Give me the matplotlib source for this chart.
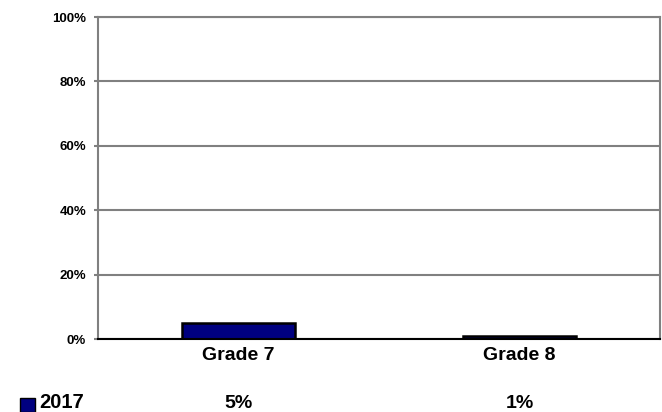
import matplotlib
matplotlib.use("Agg")
import matplotlib.pyplot as plt
from matplotlib.patches import Rectangle

categories = ["Grade 7", "Grade 8"]
values_2017 = [5, 1]
series_name = "2017"
yticks = [0, 20, 40, 60, 80, 100]

plt.rcParams['font.family'] = ['Liberation Sans', 'DejaVu Sans']
plt.rcParams['font.weight'] = 'bold'

W, H = 662, 412
fig = plt.figure(figsize=(W/100, H/100), dpi=100)
ax = fig.add_axes([98/W, (H-339)/H, (660-98)/W, (339-17)/H])

x = list(range(len(categories)))
ax.bar(x, values_2017, width=0.405, color="#000080", edgecolor="black", linewidth=1.8, zorder=3)
ax.set_xlim(-0.5, len(categories) - 0.5)
ax.set_ylim(0, 100)
ax.set_yticks(yticks)
ax.set_yticklabels([f"{v}%" for v in yticks], fontsize=9.5, fontweight='bold')
ax.yaxis.grid(True, color="#808080", linewidth=1.5, zorder=0)
ax.tick_params(axis='y', length=3, width=1.5, color="#808080", pad=5.5)
ax.set_xticks(x)
ax.set_xticklabels(categories, fontsize=14, fontweight='bold')
ax.tick_params(axis='x', length=0, pad=5.5)
for s in ['left', 'right', 'top']:
    ax.spines[s].set_color("#808080")
    ax.spines[s].set_linewidth(1.5)
ax.spines['bottom'].set_color("black")
ax.spines['bottom'].set_linewidth(1.5)
ax.spines['bottom'].set_zorder(4)

# data table row
y_bot = 1 - 412/H
for xi, v in zip(x, values_2017):
    xd = ax.transData.transform((xi, 0))[0] / W
    fig.text(xd, y_bot, f"{v}%", ha='center', va='bottom', fontsize=14, fontweight='bold')
fig.patches.append(Rectangle((20/W, 1 - 412/H), 15/W, 14/H, transform=fig.transFigure,
                             facecolor="#000080", edgecolor="black", linewidth=1))
fig.text(39/W, y_bot, series_name, ha='left', va='bottom', fontsize=14.5, fontweight='bold')

fig.savefig("out.png", dpi=100)
